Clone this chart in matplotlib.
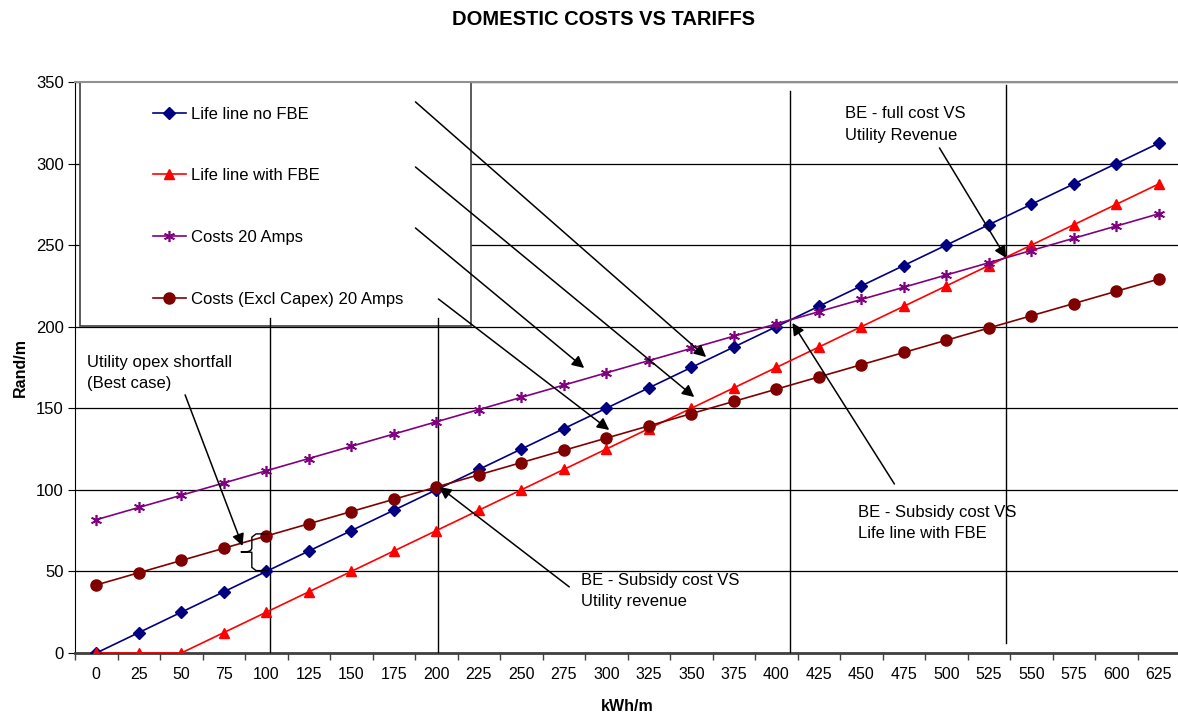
import matplotlib
matplotlib.use("Agg")
import matplotlib.pyplot as plt
from matplotlib.patches import Rectangle
from matplotlib.path import Path
from matplotlib.patches import PathPatch

plt.rcParams['font.family'] = ['Liberation Sans', 'DejaVu Sans']

# kWh per month categories
kwh = [0, 25, 50, 75, 100, 125, 150, 175, 200, 225, 250, 275, 300, 325,
       350, 375, 400, 425, 450, 475, 500, 525, 550, 575, 600, 625]

lifeline_no_fbe = [0, 12.5, 25, 37.5, 50, 62.5, 75, 87.5, 100, 112.5, 125, 137.5, 150,
                   162.5, 175, 187.5, 200, 212.5, 225, 237.5, 250, 262.5, 275, 287.5, 300, 312.5]
lifeline_fbe = [0, 0, 0, 12.5, 25, 37.5, 50, 62.5, 75, 87.5, 100, 112.5, 125,
                137.5, 150, 162.5, 175, 187.5, 200, 212.5, 225, 237.5, 250, 262.5, 275, 287.5]
costs_20a = [81.7, 89.2, 96.7, 104.2, 111.7, 119.2, 126.7, 134.2, 141.7, 149.2, 156.7, 164.2, 171.7,
             179.2, 186.7, 194.2, 201.7, 209.2, 216.7, 224.2, 231.7, 239.2, 246.7, 254.2, 261.7, 269.2]
costs_excl_capex = [41.7, 49.2, 56.7, 64.2, 71.7, 79.2, 86.7, 94.2, 101.7, 109.2, 116.7, 124.2, 131.7,
                    139.2, 146.7, 154.2, 161.7, 169.2, 176.7, 184.2, 191.7, 199.2, 206.7, 214.2, 221.7, 229.2]

fig = plt.figure(figsize=(11.78, 7.16), dpi=100)
ax = fig.add_axes([0.0637, 0.088, 0.938, 0.7975])

xpos = list(range(len(kwh)))

ax.plot(xpos, lifeline_no_fbe, color='#000080', marker='D', markersize=6, lw=1.2,
        label='Life line no FBE', zorder=5)
ax.plot(xpos, lifeline_fbe, color='#FF0000', marker='^', markersize=7.5, lw=1.2,
        label='Life line with FBE', zorder=5)
ax.plot(xpos, costs_20a, color='#800080', marker=(6, 2, 0), markersize=8, lw=1.2,
        mew=1.2, label='Costs 20 Amps', zorder=5)
ax.plot(xpos, costs_excl_capex, color='#800000', marker='o', markersize=8, lw=1.2,
        label='Costs (Excl Capex) 20 Amps', zorder=5)

ax.set_xlim(-0.5, len(kwh) - 0.5)
ax.set_ylim(0, 350)
ax.set_yticks(range(0, 351, 50))
ax.set_xticks(xpos)
ax.set_xticklabels([str(k) for k in kwh], fontsize=11.5)
ax.set_xticks([i - 0.5 for i in range(len(kwh) + 1)], minor=True)
ax.tick_params(axis='x', which='major', length=0, pad=10)
ax.tick_params(axis='x', which='minor', length=5, width=1, color='#404040')
ax.tick_params(axis='y', length=5, labelsize=12, pad=3)

ax.yaxis.grid(True, color='#000000', lw=0.9, zorder=1)
ax.set_axisbelow(True)
ax.spines['left'].set_color('#000000')
ax.spines['bottom'].set_color('#404040')
ax.spines['bottom'].set_linewidth(2)
ax.spines['top'].set_color('#909090')
ax.spines['top'].set_linewidth(1.5)
ax.spines['right'].set_visible(False)

ax.set_xlabel('kWh/m', fontsize=11.5, fontweight='bold', labelpad=12)
ax.set_ylabel('Rand/m', fontsize=11.5, fontweight='bold', labelpad=6)
fig.text(0.512, 0.973, 'DOMESTIC COSTS VS TARIFFS', ha='center', va='center',
         fontsize=14.5, fontweight='bold')

# legend box
box = Rectangle((0.0045, 0.5727), 0.3539, 0.4273, transform=ax.transAxes,
                facecolor='white', edgecolor='#404040', lw=1.2, zorder=2)
ax.add_patch(box)
leg = ax.legend(loc='upper left', bbox_to_anchor=(0.0706, 0.957), frameon=False,
                fontsize=12, borderpad=0, borderaxespad=0, labelspacing=2.8,
                handlelength=1.95, handletextpad=0.3)
leg.set_zorder(3)

# vertical marker lines
vlines = [(4.09, 0, 205.4), (8.05, 0, 205.4), (16.33, 0, 344.5), (21.41, 6, 348)]
for x, y0, y1 in vlines:
    ax.plot([x, x], [y0, y1], color='black', lw=1, zorder=3)

# annotation arrows (start, end)
arrows = [
    ((7.51, 337.8), (14.35, 181.4)),
    ((7.51, 297.9), (14.07, 156.9)),
    ((7.51, 260.5), (11.48, 174.7)),
    ((8.05, 217.0), (12.07, 136.7)),
    ((19.84, 309.6), (21.41, 242.1)),
    ((18.78, 103.6), (16.38, 202.3)),
    ((11.13, 40.5), (8.07, 101.8)),
    ((2.09, 158.2), (3.44, 65.6)),
]
for (x0, y0), (x1, y1) in arrows:
    ax.annotate('', xy=(x1, y1), xytext=(x0, y0),
                arrowprops=dict(arrowstyle='-|>', color='black', lw=1.1,
                                mutation_scale=18, shrinkA=0, shrinkB=0),
                zorder=6)

# brace for shortfall
bx0, bx1, btip = 4.05, 3.66, 3.40
ytop, ybot, ymid = 73.0, 50.5, 62.0
verts = [(bx0, ytop), (bx1 + 0.1, ytop), (bx1, ytop - 2), (bx1, ymid + 2.5),
         (bx1, ymid + 0.3), (btip + 0.12, ymid), (btip, ymid),
         (btip + 0.12, ymid), (bx1, ymid - 0.3), (bx1, ymid - 2.5),
         (bx1, ybot + 2), (bx1 + 0.1, ybot), (bx0, ybot)]
codes = [Path.MOVETO, Path.LINETO, Path.LINETO, Path.LINETO,
         Path.CURVE3, Path.CURVE3, Path.LINETO,
         Path.CURVE3, Path.CURVE3, Path.LINETO,
         Path.LINETO, Path.LINETO, Path.LINETO]
ax.add_patch(PathPatch(Path(verts, codes), fill=False, edgecolor='black', lw=1, zorder=6))

txt = dict(fontsize=12, va='top', ha='left', linespacing=1.52, zorder=7)
ax.text(17.62, 335, 'BE - full cost VS\nUtility Revenue', **txt)
ax.text(17.93, 90.6, 'BE - Subsidy cost VS\nLife line with FBE', **txt)
ax.text(11.41, 48.9, 'BE - Subsidy cost VS\nUtility revenue', **txt)
ax.text(-0.21, 182.6, 'Utility opex shortfall\n(Best case)', **txt)

fig.savefig('out.png', dpi=100)
